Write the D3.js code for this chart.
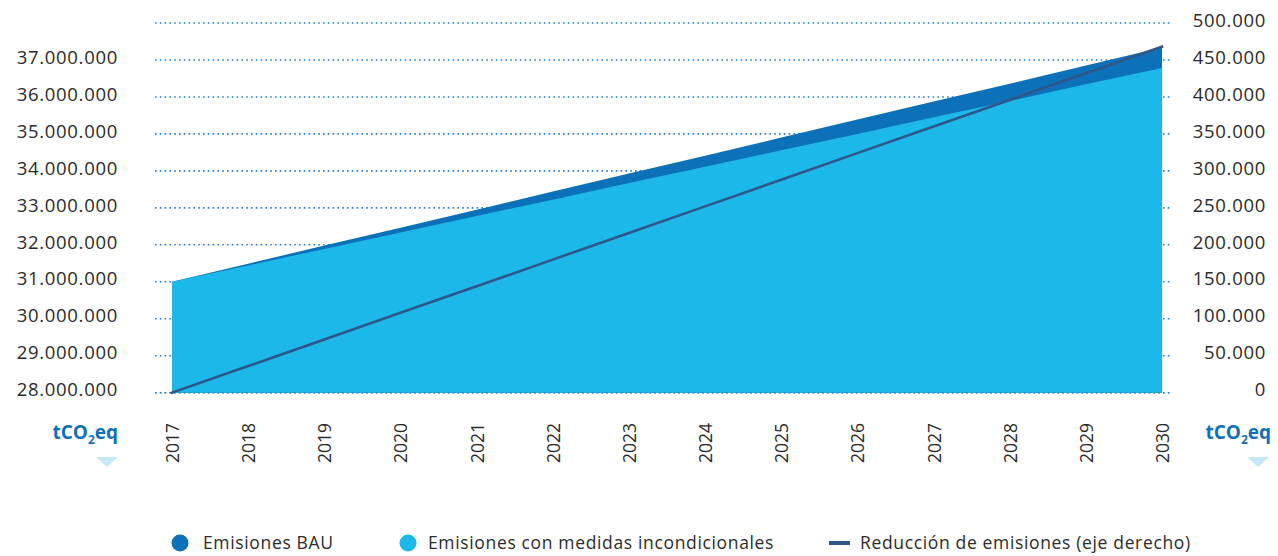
<!DOCTYPE html>
<html><head><meta charset="utf-8">
<script src="https://cdn.jsdelivr.net/npm/d3@7"></script>
<style>
html,body{margin:0;padding:0;background:#fff;}
svg{display:block;font-family:"Open Sans","Noto Sans",sans-serif;}
</style></head>
<body><svg id="c" width="1278" height="556"></svg>
<script>
const years = [2017,2018,2019,2020,2021,2022,2023,2024,2025,2026,2027,2028,2029,2030];
const bau = [31000000,31490000,31980000,32460000,32950000,33440000,33930000,34410000,34900000,35390000,35880000,36360000,36850000,37340000];
const conditional = [31000000,31440000,31890000,32330000,32780000,33220000,33670000,34110000,34560000,35000000,35450000,35890000,36340000,36780000];
const reduction = [0,36000,72000,108000,144000,180000,216000,252000,288000,324000,360000,396000,432000,468000];
const leftTicks = [28000000,29000000,30000000,31000000,32000000,33000000,34000000,35000000,36000000,37000000];
const gridTicks = [28000000,29000000,30000000,31000000,32000000,33000000,34000000,35000000,36000000,37000000,38000000];
const rightTicks = [0,50000,100000,150000,200000,250000,300000,350000,400000,450000,500000];
const legendItems = ["Emisiones BAU","Emisiones con medidas incondicionales","Reducción de emisiones (eje derecho)"];
const unitLabel = "tCO";

const colBAU = "#0c71b8", colCond = "#1db8ea", colLine = "#2f5688", colGrid = "#1f7fcc", colText = "#2b2b2b";

const svg = d3.select("#c");
const x = d3.scalePoint().domain(years).range([172, 1162]);
const yL = d3.scaleLinear().domain([28000000, 38000000]).range([392.7, 23]);
const yR = d3.scaleLinear().domain([0, 500000]).range([392.7, 23]);
const fmt = v => d3.format(",")(v).replace(/,/g, ".");

svg.append("g").selectAll("line").data(gridTicks).join("line")
  .attr("x1", 155).attr("x2", 1172)
  .attr("y1", d => yL(d)).attr("y2", d => yL(d))
  .attr("stroke", colGrid).attr("stroke-width", 1.6).attr("stroke-dasharray", "1.6,3.2");

const data = years.map((yr, i) => ({yr, bau: bau[i], cond: conditional[i], red: reduction[i]}));

svg.append("path").datum(data)
  .attr("d", d3.area().x(d => x(d.yr)).y0(yL(28000000)).y1(d => yL(d.bau)))
  .attr("fill", colBAU);
svg.append("path").datum(data)
  .attr("d", d3.area().x(d => x(d.yr)).y0(yL(28000000)).y1(d => yL(d.cond)))
  .attr("fill", colCond);

svg.append("line").attr("x1", 155).attr("x2", 1172)
  .attr("y1", yL(28000000)).attr("y2", yL(28000000))
  .attr("stroke", colGrid).attr("stroke-width", 1.6).attr("stroke-dasharray", "1.6,3.2").attr("opacity", 0.7);

svg.append("path").datum(data)
  .attr("d", d3.line().x(d => x(d.yr)).y(d => yR(d.red)))
  .attr("fill", "none").attr("stroke", colLine).attr("stroke-width", 2.6).attr("stroke-linecap", "square");

svg.append("g").selectAll("text").data(leftTicks).join("text")
  .attr("x", 118).attr("y", d => yL(d)).attr("dy", "0.2em")
  .attr("text-anchor", "end").attr("font-size", 18.5).attr("fill", colText).attr("letter-spacing", "0.7")
  .text(fmt);
svg.append("g").selectAll("text").data(rightTicks).join("text")
  .attr("x", 1266).attr("y", d => yR(d)).attr("dy", "0.2em")
  .attr("text-anchor", "end").attr("font-size", 18.5).attr("fill", colText).attr("letter-spacing", "0.7")
  .text(fmt);

svg.append("g").selectAll("text").data(years).join("text")
  .attr("transform", d => `translate(${x(d) + 7},423) rotate(-90)`)
  .attr("text-anchor", "end").attr("font-size", 17.5).attr("fill", colText)
  .text(d => d);

function unit(xEnd, triX) {
  const t = svg.append("text").attr("x", xEnd).attr("y", 439).attr("text-anchor", "end")
    .attr("font-size", 19).attr("font-weight", 700).attr("fill", colBAU);
  t.append("tspan").text(unitLabel);
  t.append("tspan").attr("font-size", 12).attr("dy", 5).text("2");
  t.append("tspan").attr("dy", -5).text("eq");
  svg.append("path").attr("d", `M${triX - 11},457 L${triX + 11},457 L${triX},467 Z`).attr("fill", "#c4e8f8");
}
unit(118, 107);
unit(1271, 1258);

const lg = svg.append("g");
const lfs = 17.5, lls = 0.65;
lg.append("circle").attr("cx", 180).attr("cy", 543).attr("r", 8.5).attr("fill", colBAU);
lg.append("text").attr("x", 203).attr("y", 549).attr("font-size", lfs).attr("letter-spacing", lls).attr("fill", colText).text(legendItems[0]);
lg.append("circle").attr("cx", 408).attr("cy", 543).attr("r", 8.5).attr("fill", colCond);
lg.append("text").attr("x", 428).attr("y", 549).attr("font-size", lfs).attr("letter-spacing", lls).attr("fill", colText).text(legendItems[1]);
lg.append("line").attr("x1", 829).attr("x2", 850).attr("y1", 543).attr("y2", 543).attr("stroke", colLine).attr("stroke-width", 4);
lg.append("text").attr("x", 860).attr("y", 549).attr("font-size", lfs).attr("letter-spacing", lls).attr("fill", colText).text(legendItems[2]);
</script></body></html>
